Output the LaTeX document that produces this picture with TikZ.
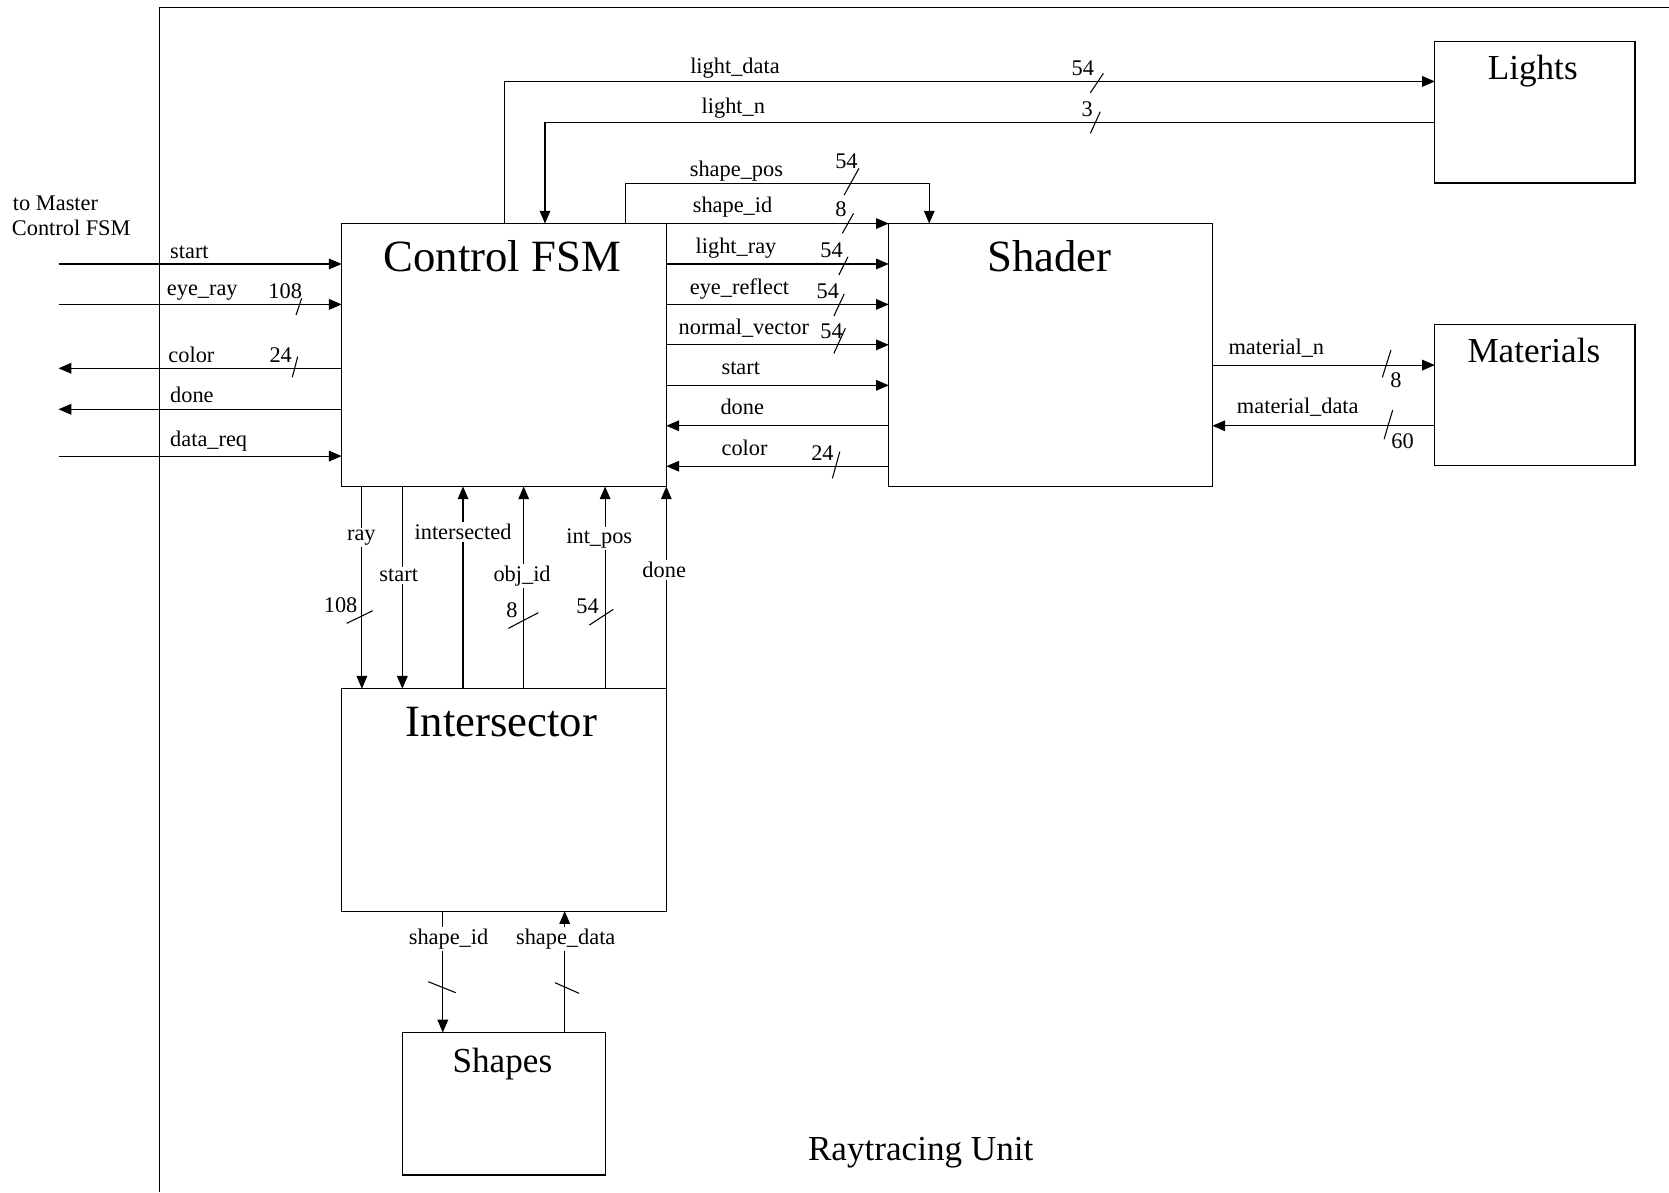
\documentclass[tikz,border=0pt]{standalone}
\usepackage{fontspec}
\setmainfont{Liberation Serif}
\usetikzlibrary{arrows.meta}
\begin{document}
\begin{tikzpicture}[x=1pt,y=-1pt,
  wire/.style={line width=1.1pt},
  arr/.style={wire,-{Triangle[length=12pt,width=10pt]}},
  busmark/.style={line width=1pt},
  box/.style={draw,line width=1.2pt,rectangle,inner sep=0pt,outer sep=0pt,anchor=north west},
  bigtitle/.style={font=\fontsize{42}{48}\selectfont,anchor=base,inner sep=0pt},
  midtitle/.style={font=\fontsize{33}{38}\selectfont,anchor=base,inner sep=0pt},
  lab/.style={font=\fontsize{21}{24}\selectfont,anchor=base west,inner sep=0pt},
  clab/.style={font=\fontsize{21}{24}\selectfont,anchor=base,inner sep=0pt},
  vlab/.style={font=\fontsize{21}{24}\selectfont,anchor=base,fill=white,inner sep=2pt}]
\useasboundingbox (0,0) rectangle (1568,1120);
% frame
\draw[line width=1.5pt] (150,1120) -- (150,7) -- (1568,7);
% boxes
\node[box,minimum width=305pt,minimum height=247pt] (fsm) at (321,210) {};
\node[box,minimum width=304pt,minimum height=247pt] (shader) at (835,210) {};
\node[box,minimum width=305pt,minimum height=209pt] (isect) at (321,647) {};
\node[box,minimum width=191pt,minimum height=134pt] (shapes) at (378,970) {};
\node[box,minimum width=188pt,minimum height=133pt] (lights) at (1348,39) {};
\node[box,minimum width=188pt,minimum height=132pt] (mats) at (1348,305) {};
% titles
\node[bigtitle] (tfsm) at (472,255) {Control FSM};
\node[bigtitle] (tshader) at (986,255) {Shader};
\node[bigtitle] (tisect) at (471,692) {Intersector};
\node[midtitle] (tshapes) at (472,1008) {Shapes};
\node[midtitle] (tlights) at (1440,74.5) {Lights};
\node[midtitle] (tmats) at (1441,340.4) {Materials};
\node[midtitle] (tunit) at (865,1089.8) {Raytracing Unit};
\node[lab] (tmaster1) at (12,198) {to Master};
\node[lab] (tmaster2) at (11,221) {Control FSM};
% left free ends
\coordinate (Lstart) at (55,248);
\coordinate (Leye) at (55,286);
\coordinate (Lcolor) at (55,346);
\coordinate (Ldone) at (55,384.5);
\coordinate (Lreq) at (55,428.5);
\draw[arr] (Lstart) -- (fsm.west |- Lstart);
\draw[arr] (Leye) -- (fsm.west |- Leye);
\draw[arr] (fsm.west |- Lcolor) -- (Lcolor);
\draw[arr] (fsm.west |- Ldone) -- (Ldone);
\draw[arr] (Lreq) -- (fsm.west |- Lreq);
\node[lab] (l1) at (159.7,242.6) {start};
\node[lab] (l2) at (156.6,277.5) {eye\_ray};
\node[lab] (l3) at (158.1,340.7) {color};
\node[lab] (l4) at (159.7,378.3) {done};
\node[lab] (l5) at (159.7,419.6) {data\_req};
\node[lab] (n1) at (252,280) {108};
\node[lab] (n2) at (253,340.7) {24};
\draw[busmark] (283.4,280.3) -- (278.1,296);
\draw[busmark] (279.7,335) -- (274.6,354.5);
% top: lights
\draw[arr] (fsm.north -| 474,0) |- (lights.west |- 0,76.5);
\draw[arr] (lights.west |- 0,115) -| (fsm.north -| 512,0);
\node[lab] (l6) at (648.3,68.9) {light\_data};
\node[lab] (n3) at (1006.6,70.5) {54};
\draw[busmark] (1036.6,68.9) -- (1024.4,87.1);
\node[lab] (l7) at (659,106.5) {light\_n};
\node[lab] (n4) at (1015.9,109.6) {3};
\draw[busmark] (1033.7,104.9) -- (1024.4,125.3);
% FSM -> Shader
\draw[arr] (fsm.north -| 588,0) |- (873,172) -- (shader.north -| 873,0);
\draw[arr] (fsm.north east) -- (shader.north west);
\draw[arr] (fsm.east |- 0,248) -- (shader.west |- 0,248);
\draw[arr] (fsm.east |- 0,286) -- (shader.west |- 0,286);
\draw[arr] (fsm.east |- 0,324) -- (shader.west |- 0,324);
\draw[arr] (fsm.east |- 0,362) -- (shader.west |- 0,362);
\draw[arr] (shader.west |- 0,400) -- (fsm.east |- 0,400);
\draw[arr] (shader.west |- 0,438) -- (fsm.east |- 0,438);
\node[lab] (l8) at (647.9,166) {shape\_pos};
\node[lab] (n5) at (784.5,158) {54};
\draw[busmark] (807,158.1) -- (793.1,183.2);
\node[lab] (l9) at (650.7,199.8) {shape\_id};
\node[lab] (n6) at (784.5,203.6) {8};
\draw[busmark] (801.9,200.4) -- (791.4,219.2);
\node[lab] (l10) at (653.4,238.6) {light\_ray};
\node[lab] (n7) at (770.6,241.7) {54};
\draw[busmark] (796.7,241.2) -- (788,258.4);
\node[lab] (l11) at (647.9,276.5) {eye\_reflect};
\node[lab] (n8) at (767,280.3) {54};
\draw[busmark] (793.1,276.2) -- (783.4,296.9);
\node[lab] (l12) at (637.4,314.7) {normal\_vector};
\node[lab] (n9) at (770.6,317.8) {54};
\draw[busmark] (794.2,308.5) -- (783.4,332);
\node[lab] (l13) at (677.7,351.4) {start};
\node[lab] (l14) at (676.7,389.3) {done};
\node[lab] (l15) at (677.7,427.5) {color};
\node[lab] (n10) at (762,432.2) {24};
\draw[busmark] (789,424.3) -- (782,449.4);
% Shader <-> Materials
\draw[arr] (shader.east |- 0,343) -- (mats.west |- 0,343);
\draw[arr] (mats.west |- 0,400) -- (shader.east |- 0,400);
\node[lab] (l16) at (1154,332.6) {material\_n};
\node[lab] (n11) at (1306,364) {8};
\draw[busmark] (1306.8,328.8) -- (1298.7,354.5);
\node[lab] (l17) at (1161.9,388.3) {material\_data};
\node[lab] (n12) at (1307,421.8) {60};
\draw[busmark] (1308.4,385.2) -- (1300.3,412.7);
% FSM <-> Intersector
\draw[arr] (fsm.south -| 340,0) -- (isect.north -| 340,0);
\draw[arr] (fsm.south -| 378,0) -- (isect.north -| 378,0);
\draw[arr] (isect.north -| 435,0) -- (fsm.south -| 435,0);
\draw[arr] (isect.north -| 492,0) -- (fsm.south -| 492,0);
\draw[arr] (isect.north -| 568.5,0) -- (fsm.south -| 568.5,0);
\draw[arr] (isect.north east) -- (fsm.south east);
\node[vlab] (v1) at (339.5,507.5) {ray};
\node[vlab] (v2) at (374.6,546.5) {start};
\node[vlab] (v3) at (435,506.7) {intersected};
\node[vlab] (v4) at (490.5,546) {obj\_id};
\node[vlab] (v5) at (563,510.7) {int\_pos};
\node[vlab] (v6) at (624,542.4) {done};
\node[clab] (n13) at (320,575.6) {108};
\draw[busmark] (325.7,585.6) -- (350.1,573.8);
\node[clab] (n14) at (481,580) {8};
\draw[busmark] (477.6,590.3) -- (505.8,575.6);
\node[clab] (n15) at (552,576) {54};
\draw[busmark] (553.7,587.2) -- (576.2,572.5);
% Intersector <-> Shapes
\draw[arr] (isect.south -| 416,0) -- (shapes.north -| 416,0);
\draw[arr] (shapes.north -| 530.5,0) -- (isect.south -| 530.5,0);
\node[vlab] (v7) at (421.4,887) {shape\_id};
\node[vlab] (v8) at (531.5,887) {shape\_data};
\draw[busmark] (402.4,922.3) -- (428.1,932.6);
\draw[busmark] (521.4,923.2) -- (544,933.2);
\end{tikzpicture}
\end{document}
